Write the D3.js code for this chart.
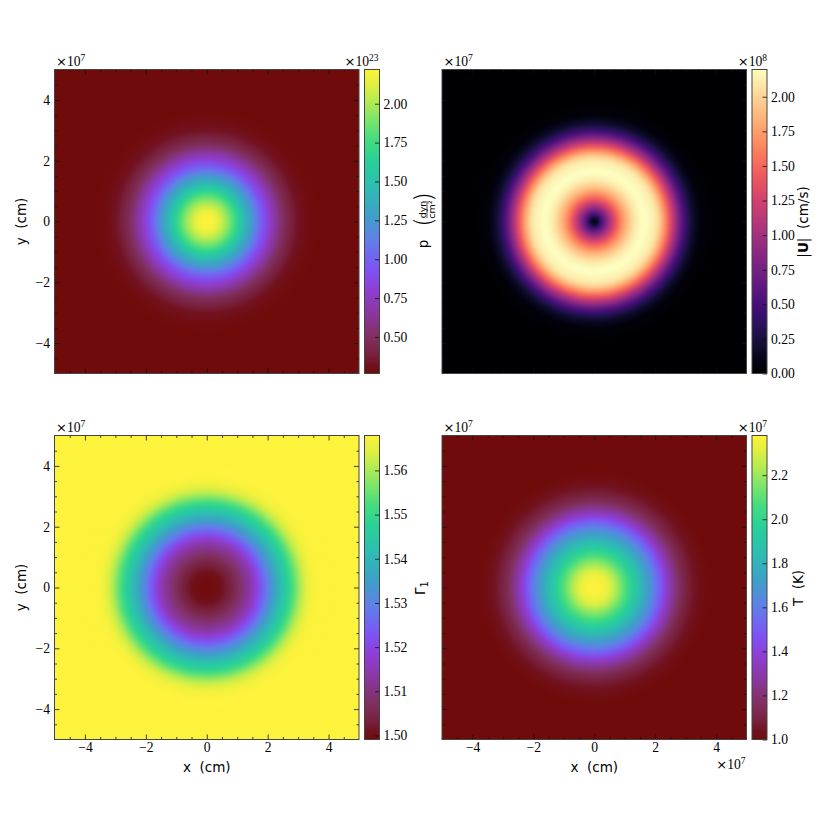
<!DOCTYPE html>
<html><head><meta charset="utf-8">
<script src="https://cdn.jsdelivr.net/npm/d3@7"></script>
<style>
html,body{margin:0;padding:0;background:#fff}
svg{display:block}
.tl{font-family:"Liberation Serif",serif;font-size:13.6px;fill:#000}
.lab{font-family:"DejaVu Sans",sans-serif;font-size:13.5px;fill:#000;white-space:pre}
</style></head><body>
<svg id="c" width="830" height="830"></svg>
<script>
// Radial samples (units of 1e7 cm)
const radii = [0,.1,.2,.3,.4,.5,.6,.7,.8,.9,1,1.1,1.2,1.3,1.4,1.5,1.6,1.7,1.8,1.9,2,2.1,2.2,2.3,2.4,2.5,2.6,2.7,2.8,2.9,3,3.1,3.2,3.3,3.4,3.5,3.6,3.7,3.8,3.9,4];
const pressure = [2.22,2.216,2.20,2.17,2.12,2.06,1.995,1.93,1.85,1.77,1.67,1.575,1.49,1.40,1.32,1.24,1.145,1.067,.979,.90,.832,.764,.695,.636,.568,.509,.46,.421,.386,.359,.333,.316,.30,.288,.279,.271,.267,.265,.265,.265,.265];
const speed = [0,.18,.42,.63,.83,1.02,1.2,1.37,1.52,1.66,1.78,1.89,1.98,2.06,2.12,2.17,2.19,2.2,2.17,2.14,2.1,2.02,1.88,1.72,1.54,1.34,1.14,.94,.75,.58,.44,.32,.22,.15,.1,.06,.035,.02,.01,.005,0];
const gamma1 = [1.4991,1.4992,1.4994,1.4998,1.5003,1.5008,1.5019,1.5029,1.5039,1.5053,1.5067,1.5084,1.5098,1.5115,1.5132,1.5153,1.5177,1.5204,1.5232,1.5266,1.5294,1.5321,1.5349,1.5376,1.5404,1.5431,1.5459,1.5486,1.5517,1.5548,1.5579,1.5607,1.5631,1.5648,1.5662,1.5671,1.5676,1.5679,1.5679,1.5679,1.5679];
const temperature = [2.38,2.377,2.373,2.359,2.339,2.311,2.277,2.235,2.187,2.139,2.09,2.042,1.994,1.938,1.89,1.842,1.794,1.745,1.697,1.649,1.593,1.538,1.483,1.414,1.359,1.304,1.255,1.207,1.166,1.131,1.104,1.08,1.061,1.046,1.032,1.021,1.012,1.006,1,1,1];
const axisTicks = [-4,-2,0,2,4];
const axisMinor = [-4.5,-3.5,-3,-2.5,-1.5,-1,-.5,.5,1,1.5,2.5,3,3.5,4.5];
const pressureTicks = [.5,.75,1,1.25,1.5,1.75,2];
const speedTicks = [0,.25,.5,.75,1,1.25,1.5,1.75,2];
const gammaTicks = [1.5,1.51,1.52,1.53,1.54,1.55,1.56];
const tempTicks = [1,1.2,1.4,1.6,1.8,2,2.2];
const cmapStops = [0,.03,.06,.12,.2,.27,.34,.44,.52,.62,.70,.77,.84,.90,.95,1];
const cmapColors = ["#6f0c0b","#721220","#78203c","#80305f","#8a37a0","#8f3dd0","#7f52f5","#5f80e8","#3f9fc8","#2cbfb0","#28d098","#45dc80","#80e668","#b8ec50","#e0f040","#fdf23c"];

const svg = d3.select("#c");
const defs = svg.append("defs");
const f = defs.append("filter").attr("id","soft").attr("x","-5%").attr("y","-5%").attr("width","110%").attr("height","110%")
  .attr("color-interpolation-filters","sRGB");
f.append("feGaussianBlur").attr("stdDeviation",1.0);

const custom = d3.scaleLinear().domain(cmapStops).range(cmapColors).interpolate(d3.interpolateRgb).clamp(true);
const W = 304.5, H = 304;
const panels = [
 {x:54.5,y:69.5,vals:pressure,dom:[.265,2.22],cm:custom,ticks:pressureTicks,fmt:".2f",xl:false,yl:true,exp:"23"},
 {x:442,y:69.5,vals:speed,dom:[0,2.197],cm:d3.interpolateMagma,ticks:speedTicks,fmt:".2f",xl:false,yl:false,exp:"8"},
 {x:54.5,y:435.5,vals:gamma1,dom:[1.4991,1.5679],cm:custom,ticks:gammaTicks,fmt:".2f",xl:true,yl:true,exp:null},
 {x:442,y:435.5,vals:temperature,dom:[1,2.38],cm:custom,ticks:tempTicks,fmt:".1f",xl:true,yl:false,exp:"7"}
];

function offsetText(x,y,e,anchor){
  const t = svg.append("text").attr("class","tl").attr("x",x).attr("y",y).attr("text-anchor",anchor||"start");
  t.append("tspan").text("×").style("font-family","'DejaVu Sans'").style("font-size","13px");
  t.append("tspan").text("10");
  t.append("tspan").text(e).attr("dy",-5).style("font-size","9.5px");
}
function styleAxis(g){
  g.select(".domain").remove();
  g.selectAll(".tick line").attr("stroke","#111").attr("stroke-width",.8);
  g.selectAll(".tick text").attr("class","tl").attr("fill","#000");
}

panels.forEach((p,i)=>{
  const g = svg.append("g").attr("transform",`translate(${p.x},${p.y})`);
  const x = d3.scaleLinear().domain([-5,5]).range([0,W]);
  const y = d3.scaleLinear().domain([-5,5]).range([H,0]);
  const rs = d3.scaleLinear().domain([0,10]).range([0,W]);
  const v = d3.scaleLinear().domain(p.dom).range([0,1]);
  const col = d => p.cm(v(d));
  const cid = "clip"+i;
  defs.append("clipPath").attr("id",cid).append("rect").attr("width",W).attr("height",H);
  const img = g.append("g").attr("clip-path",`url(#${cid})`);
  img.append("rect").attr("width",W).attr("height",H).attr("fill",col(p.vals[p.vals.length-1]));
  const rings = radii.map((r,k)=>({r,val:p.vals[k]})).reverse();
  img.append("g").attr("filter","url(#soft)").selectAll("circle").data(rings).join("circle")
    .attr("cx",x(0)).attr("cy",y(0)).attr("r",d=>rs(d.r+.05)).attr("fill",d=>col(d.val));

  const sides = [
    [d3.axisBottom,x,`translate(0,${H})`,p.xl,3.3],
    [d3.axisTop,x,null,false,0],
    [d3.axisLeft,y,null,p.yl,4.5],
    [d3.axisRight,y,`translate(${W},0)`,false,0]
  ];
  sides.forEach(([ax,sc,tr,lab,pad])=>{
    styleAxis(g.append("g").attr("transform",tr).call(ax(sc).tickValues(axisTicks).tickSize(-5).tickPadding(pad).tickFormat(lab?d3.format("d"):"")));
    styleAxis(g.append("g").attr("transform",tr).call(ax(sc).tickValues(axisMinor).tickSize(-2.5).tickFormat("")));
  });
  g.append("rect").attr("width",W).attr("height",H).attr("fill","none").attr("stroke","#444").attr("stroke-width",1);

  // colorbar
  const cx = W+5.5, cw = 15;
  const cb = g.append("g").attr("transform",`translate(${cx},0)`);
  const cy = d3.scaleLinear().domain(p.dom).range([H,0]);
  const gr = defs.append("linearGradient").attr("id","cb"+i).attr("x1",0).attr("x2",0).attr("y1",1).attr("y2",0);
  gr.selectAll("stop").data(d3.range(0,101)).join("stop").attr("offset",d=>d/100).attr("stop-color",d=>p.cm(d/100));
  cb.append("rect").attr("width",cw).attr("height",H).attr("fill",`url(#cb${i})`);
  const ca = cb.append("g").attr("transform",`translate(${cw},0)`).call(d3.axisRight(cy).tickValues(p.ticks).tickSize(-4.5).tickPadding(4).tickFormat(d3.format(p.fmt)));
  styleAxis(ca);
  cb.append("rect").attr("width",cw).attr("height",H).attr("fill","none").attr("stroke","#444").attr("stroke-width",1);

  // labels
  if(p.xl) g.append("text").attr("class","lab").attr("x",W/2).attr("y",H+32).attr("text-anchor","middle").text("x  (cm)");
  if(p.yl) g.append("text").attr("class","lab").attr("transform",`translate(-28.5,${H/2}) rotate(-90)`).attr("text-anchor","middle").text("y  (cm)");
  offsetText(p.x+1.5,p.y-3.5,"7");
  if(p.exp) offsetText(p.x+cx+cw+ (i===0?-1:0),p.y-3.5,p.exp,"end");
  if(i===3) offsetText(p.x+W-1,p.y+H+29.5,"7","end");
});

// colorbar titles
const rot = (x,y)=>`translate(${x},${y}) rotate(-90)`;
const pl = svg.append("g").attr("transform",rot(429.5,222));
pl.append("text").attr("class","lab").attr("x",-22).attr("y",-2).attr("text-anchor","middle").text("p");
const paren = (s,c)=>pl.append("text").attr("class","lab").attr("x",s).attr("y",2.2).attr("text-anchor","middle").style("font-size","24.7px").style("font-weight","200").text(c);
paren(0,"(");
paren(25,")");
pl.append("text").attr("class","lab").attr("x",12.5).attr("y",-4).attr("text-anchor","middle").style("font-size","9.5px").text("dyn");
pl.append("line").attr("x1",4).attr("x2",21).attr("y1",-2.5).attr("y2",-2.5).attr("stroke","#000").attr("stroke-width",.7);
pl.append("text").attr("class","lab").attr("x",12.5).attr("y",5.5).attr("text-anchor","middle").style("font-size","9.5px").text("cm²");

const ul = svg.append("text").attr("class","lab").attr("transform",rot(808,222)).attr("text-anchor","middle");
ul.append("tspan").text("|");
ul.append("tspan").text("U").style("font-weight","bold");
ul.append("tspan").text("|  (cm/s)");

const gl = svg.append("text").attr("class","lab").attr("transform",rot(425,588)).attr("text-anchor","middle");
gl.append("tspan").text("Γ");
gl.append("tspan").text("1").attr("dy",2.5).style("font-size","10px");

svg.append("text").attr("class","lab").attr("transform",rot(803,588)).attr("text-anchor","middle").text("T  (K)");
</script>
</body></html>
